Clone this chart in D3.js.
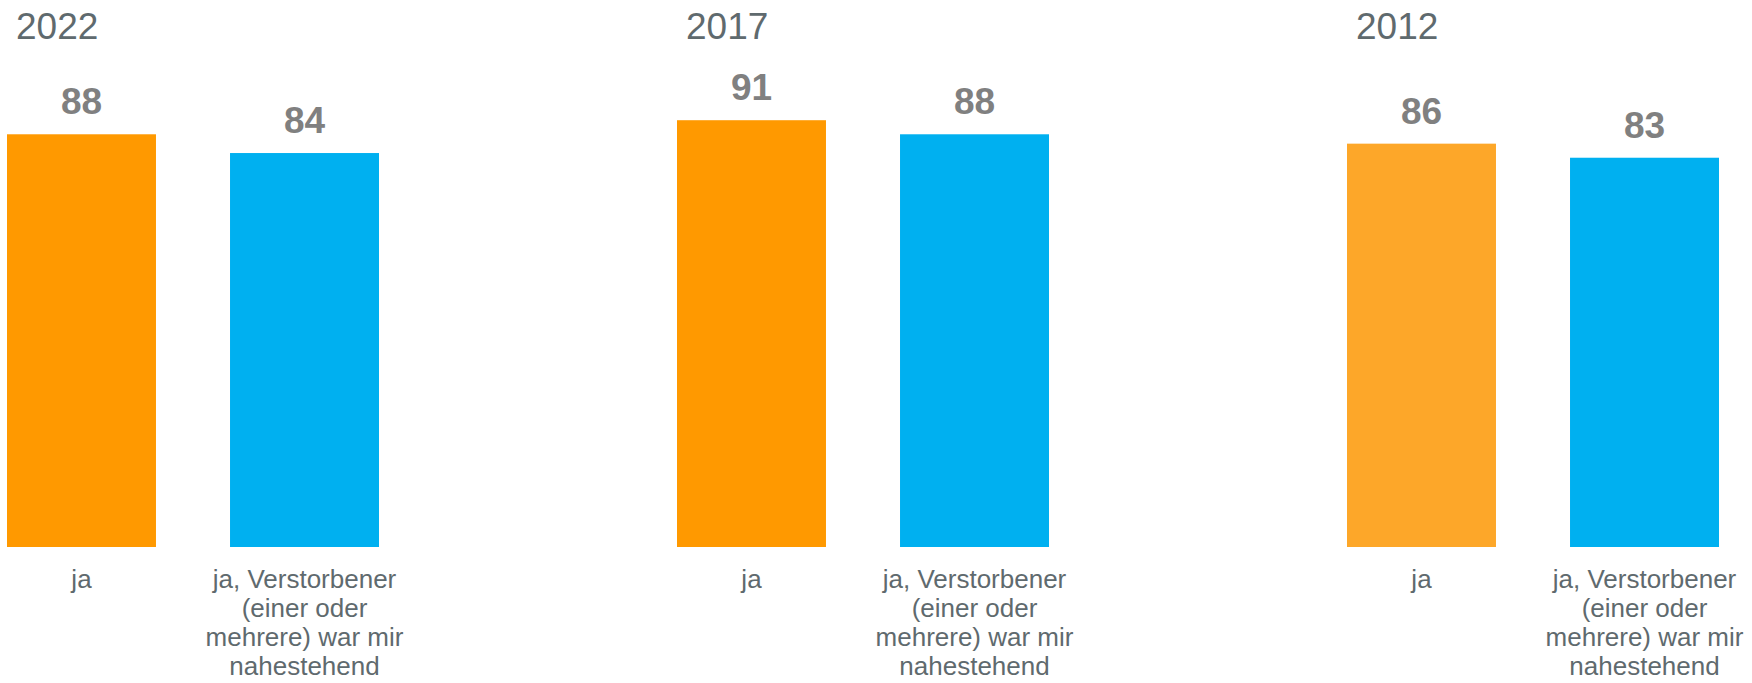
<!DOCTYPE html>
<html>
<head>
<meta charset="utf-8">
<script src="https://cdn.jsdelivr.net/npm/d3@7"></script>
<style>
  body { margin: 0; background: #fff; }
  text { font-family: "Liberation Sans", Arial, sans-serif; }
</style>
</head>
<body>
<script>
var width = 1752, height = 683;

// data
var years = ["2022", "2017", "2012"];
var categories = ["ja", "ja, Verstorbener (einer oder mehrere) war mir nahestehend"];
var categoryLines = [["ja"], ["ja, Verstorbener", "(einer oder", "mehrere) war mir", "nahestehend"]];
var valuesJa = [88, 91, 86];
var valuesNah = [84, 88, 83];
var orangeByYear = ["#ff9900", "#ff9900", "#fda729"];
var blue = "#00b0f0";

var data = years.map(function(y, i) {
  return {year: y, values: [
    {cat: categories[0], value: valuesJa[i], color: orangeByYear[i]},
    {cat: categories[1], value: valuesNah[i], color: blue}
  ]};
});

var svg = d3.select("body").append("svg")
    .attr("width", width)
    .attr("height", height);

// ranges
var x0 = d3.scaleBand().domain(years).range([7, 7 + 670 * 3]);
var x1 = d3.scaleBand().domain(categories).range([0, 372]).paddingInner(0.332).paddingOuter(0);
var y = d3.scaleLinear().domain([0, 100]).range([547, 78]);

var panel = svg.selectAll("g.panel")
    .data(data)
  .enter().append("g")
    .attr("class", "panel")
    .attr("transform", function(d) { return "translate(" + x0(d.year) + ",0)"; });

// year titles
panel.append("text")
    .attr("x", 9)
    .attr("y", 39)
    .attr("font-size", "37px")
    .attr("fill", "#5f6a6e")
    .text(function(d) { return d.year; });

// bars
panel.selectAll("rect")
    .data(function(d) { return d.values; })
  .enter().append("rect")
    .attr("x", function(d) { return x1(d.cat); })
    .attr("y", function(d) { return y(d.value); })
    .attr("width", x1.bandwidth())
    .attr("height", function(d) { return y(0) - y(d.value); })
    .attr("fill", function(d) { return d.color; });

// value labels
panel.selectAll("text.val")
    .data(function(d) { return d.values; })
  .enter().append("text")
    .attr("class", "val")
    .attr("x", function(d) { return x1(d.cat) + x1.bandwidth() / 2; })
    .attr("y", function(d) { return y(d.value) - 20; })
    .attr("text-anchor", "middle")
    .attr("font-size", "37px")
    .attr("font-weight", "bold")
    .attr("fill", "#808080")
    .text(function(d) { return d.value; });

// category axis
panel.append("g")
    .attr("transform", "translate(0," + y(0) + ")")
    .call(d3.axisBottom(x1).tickSize(0).tickPadding(0).tickFormat(""))
    .call(function(g) { g.select(".domain").remove(); })
    .selectAll(".tick text")
    .each(function(d, i) {
      var t = d3.select(this)
          .attr("y", 41)
          .attr("dy", 0)
          .attr("font-size", "26px")
          .attr("fill", "#5f6a6e")
          .attr("font-family", "Liberation Sans, Arial, sans-serif");
      categoryLines[i].forEach(function(line, j) {
        t.append("tspan").attr("x", 0).attr("y", 41 + j * 29).text(line);
      });
    });
</script>
</body>
</html>
